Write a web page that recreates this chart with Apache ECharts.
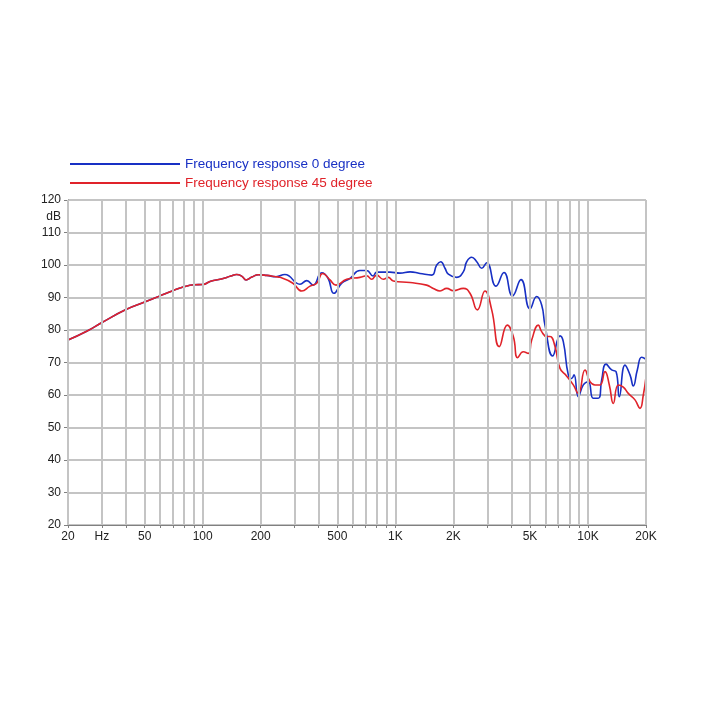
<!DOCTYPE html>
<html>
<head>
<meta charset="utf-8">
<script src="https://cdn.jsdelivr.net/npm/echarts@6/dist/echarts.min.js"></script>
<style>html,body{margin:0;padding:0;background:#fff}#c{width:702px;height:702px}</style>
</head>
<body>
<div id="c"></div>
<script>
var sharedFreq = [20,25,30,40,50,60,70,80,90,100,110,125,140,150,160,168,180,195,215,240];
var sharedDb   = [76.9,79.6,82.3,86.3,88.6,90.5,92.1,93.3,93.9,94.0,95.0,95.7,96.6,97.1,96.5,95.4,96.3,97.0,96.8,96.4];

var blueFreq = [267,320,347,374,415,447,480,527,582,655,710,766,800,938,1057,1192,1342,1544,1640,1720,1810,1884,2082,2253,2346,2490,2646,2808,2980,3330,3664,4056,4490,5000,5416,5748,5980,6558,7156,7444,7902,8230,8460,8906,9454,10034,10652,11308,11776,12400,13274,13976,14536,15560,16520,17186,18026,18994,20000];
var blueDb   = [97.1,94.1,95.2,93.8,97.6,96.0,91.3,94.4,95.9,98.3,98.3,96.6,97.8,97.8,97.5,97.9,97.4,96.9,100.0,101.0,99.0,97.2,96.2,97.9,101.0,102.4,101.0,99.0,100.7,93.5,97.7,90.5,95.5,86.5,90.3,87.7,81.5,72.0,78.2,76.4,66.2,65.1,66.2,59.5,63.1,64.1,59.0,59.0,64.6,69.5,67.7,67.2,59.5,69.2,66.2,62.8,67.7,71.6,71.0];

var redFreq = [252,294,327,361,391,420,458,492,559,655,710,754,800,866,919,976,1192,1454,1574,1706,1848,1999,2253,2440,2664,2920,3164,3464,3812,4096,4316,4614,4900,5102,5522,5748,6102,6348,6742,7156,7754,8388,8906,9648,10242,10870,11542,12252,12902,13532,14364,15248,16184,17536,18612,19366,20000];
var redDb   = [96.2,94.4,92.0,93.5,94.4,97.4,95.4,93.8,95.6,96.2,96.7,95.6,96.9,95.6,96.2,95.1,94.6,93.8,92.8,92.0,92.8,92.1,92.8,91.3,86.2,92.0,86.2,74.9,81.5,78.0,71.5,73.3,72.8,76.9,81.5,79.5,78.0,78.0,74.9,68.2,65.8,63.1,60.5,67.7,64.1,63.1,63.1,67.2,63.1,57.4,63.1,62.4,60.5,58.5,55.9,60.0,65.6];

var gridFreq = [20,30,40,50,60,70,80,90,100,200,300,400,500,600,700,800,900,1000,2000,3000,4000,5000,6000,7000,8000,9000,10000,20000];
var xLabelFreq = [20,30,50,100,200,500,1000,2000,5000,10000,20000];
var xLabelText = ['20','Hz','50','100','200','500','1K','2K','5K','10K','20K'];
var yTicks = [20,30,40,50,60,70,80,90,100,110,120];
var yUnitPos = 115;

function pairs(f, d) { return f.map(function (v, i) { return [v, d[i]]; }); }
var blueData = pairs(sharedFreq.concat(blueFreq), sharedDb.concat(blueDb));
var redData = pairs(sharedFreq.concat(redFreq), sharedDb.concat(redDb));

var FONT = '"Liberation Sans", Arial, Helvetica, sans-serif';
var BLUE = '#1830c4', RED = '#e0232a';

var chart = echarts.init(document.getElementById('c'), null, {renderer: 'canvas'});
chart.setOption({
  backgroundColor: '#ffffff',
  animation: false,
  legend: {
    orient: 'vertical', left: 65, top: 152, itemGap: 5,
    itemWidth: 110, itemHeight: 2, icon: 'rect',
    textStyle: {fontFamily: FONT, fontSize: 13.5},
    data: [
      {name: 'Frequency response 0 degree', textStyle: {color: BLUE}},
      {name: 'Frequency response 45 degree', textStyle: {color: RED}}
    ]
  },
  grid: {left: 68, right: 56, top: 200, bottom: 177, containLabel: false},
  xAxis: {
    type: 'log', logBase: 10, min: 20, max: 20000,
    axisLine: {show: true, lineStyle: {color: '#808080', width: 1}},
    axisTick: {show: true, length: 3, customValues: gridFreq, lineStyle: {color: '#808080'}},
    axisLabel: {
      show: true, margin: 6, customValues: xLabelFreq,
      fontFamily: FONT, fontSize: 12, color: '#222',
      formatter: function (v) {
        var r = Math.round(v);
        var i = xLabelFreq.indexOf(r);
        return i >= 0 ? xLabelText[i] : '';
      }
    },
    splitLine: {show: false}, minorTick: {show: false}
  },
  yAxis: {
    type: 'value', min: 20, max: 120, interval: 10,
    axisLine: {show: true, lineStyle: {color: '#808080', width: 1}},
    axisTick: {show: true, length: 4, customValues: yTicks, lineStyle: {color: '#808080'}},
    axisLabel: {
      show: true, margin: 7, customValues: yTicks.concat([yUnitPos]),
      fontFamily: FONT, fontSize: 12, color: '#222',
      formatter: function (v) { return Math.round(v) === yUnitPos ? 'dB' : String(Math.round(v)); }
    },
    splitLine: {show: true, lineStyle: {color: '#c4c4c4', width: 2}}
  },
  series: [
    {
      type: 'line', name: 'vgrid', data: [], silent: true, z: 1,
      markLine: {
        silent: true, symbol: 'none', animation: false,
        label: {show: false},
        lineStyle: {color: '#c4c4c4', width: 2, type: 'solid'},
        emphasis: {disabled: true},
        data: gridFreq.map(function (f) { return {xAxis: f}; })
      }
    },
    {
      type: 'line', name: 'Frequency response 0 degree', data: blueData,
      showSymbol: false, smooth: 0.5, z: 3,
      lineStyle: {color: BLUE, width: 1.6}, itemStyle: {color: BLUE}
    },
    {
      type: 'line', name: 'Frequency response 45 degree', data: redData,
      showSymbol: false, smooth: 0.5, z: 4,
      lineStyle: {color: RED, width: 1.6}, itemStyle: {color: RED}
    }
  ]
});
</script>
</body>
</html>
